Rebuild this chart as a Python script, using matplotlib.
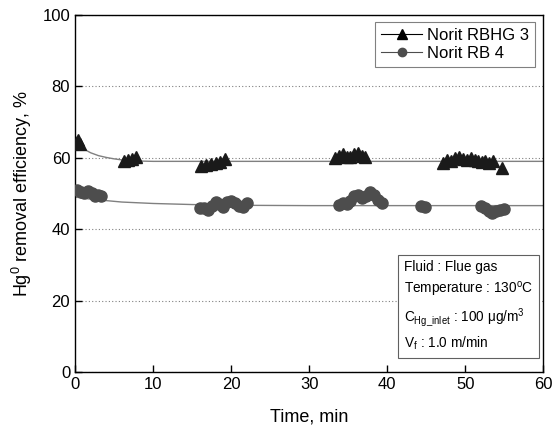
import matplotlib
matplotlib.use('Agg')
import matplotlib.pyplot as plt
from matplotlib.lines import Line2D

plt.rcParams['font.family'] = ['Liberation Sans', 'DejaVu Sans']
plt.rcParams['mathtext.fontset'] = 'custom'
plt.rcParams['mathtext.rm'] = 'Liberation Sans'
plt.rcParams['mathtext.it'] = 'Liberation Sans'

# Norit RBHG 3 (triangles)
t_rbhg = [0.2, 0.4, 0.6,
          6.3, 6.8, 7.3, 7.8,
          16.2, 16.8, 17.4, 18.0, 18.6, 19.2,
          33.3, 33.8, 34.3, 34.8, 35.3, 35.8, 36.3, 36.8, 37.2,
          47.2, 47.7, 48.2, 48.7, 49.2, 49.7, 50.2, 50.7, 51.2, 51.7, 52.2, 52.6, 53.1, 53.6, 54.7]
v_rbhg = [64.5, 65.0, 64.0,
          59.2, 59.4, 59.6, 60.2,
          57.6, 58.0, 58.3, 58.6, 58.9, 59.6,
          60.0, 60.5, 61.2, 60.3, 60.2, 61.2, 61.3, 60.5, 60.3,
          58.6, 59.3, 59.2, 60.0, 60.3, 59.6, 59.4, 60.0, 59.5, 59.2, 58.8, 59.2, 58.6, 59.2, 57.0]

# Norit RB 4 (circles)
t_rb = [0.2, 0.7, 1.2, 1.7, 2.2, 2.6, 3.0, 3.3,
        16.0, 16.5, 17.0, 17.5, 18.0, 18.5, 19.0, 19.5, 20.0, 20.5, 21.0, 21.5, 22.0,
        33.8, 34.3, 34.8, 35.3, 35.8, 36.3, 36.8, 37.3, 37.8, 38.3, 38.8, 39.3,
        44.3, 44.9,
        52.0, 52.5, 53.0, 53.5, 54.0, 54.5, 55.0]
v_rb = [51.0, 50.5, 50.2, 50.8, 50.0, 49.2, 49.6, 49.2,
        46.0, 45.8, 45.5, 46.5, 47.5, 47.0, 46.2, 47.5, 48.0, 47.2, 46.5, 46.2, 47.2,
        46.8, 47.2, 47.0, 47.8, 49.2, 49.6, 48.6, 49.4, 50.3, 49.6, 48.2, 47.2,
        46.5, 46.3,
        46.5, 46.0, 45.2, 44.6, 45.0, 45.4, 45.6]

# fitted curves
t_fit1 = [0, 0.5, 1, 1.5, 2, 3, 4, 5, 6, 8, 10, 15, 60]
v_fit1 = [64.2, 63.4, 62.7, 62.0, 61.4, 60.6, 60.1, 59.7, 59.4, 59.1, 59.0, 59.0, 59.0]
t_fit2 = [0, 1, 2, 4, 6, 8, 10, 15, 20, 30, 60]
v_fit2 = [49.0, 48.7, 48.4, 48.0, 47.6, 47.4, 47.2, 46.9, 46.7, 46.6, 46.6]

fig = plt.figure(figsize=(5.52, 4.29), dpi=100)
ax = fig.add_axes([0.136, 0.133, 0.848, 0.832])

ax.plot(t_fit1, v_fit1, color='#808080', lw=1.0, zorder=2)
ax.plot(t_fit2, v_fit2, color='#808080', lw=1.0, zorder=2)
ax.plot(t_rbhg, v_rbhg, linestyle='none', marker='^', ms=8.5, color='#1a1a1a', zorder=3)
ax.plot(t_rb, v_rb, linestyle='none', marker='o', ms=8, color='#4d4d4d', zorder=3)

ax.set_xlim(0, 60)
ax.set_ylim(0, 100)
ax.set_xticks([0, 10, 20, 30, 40, 50, 60])
ax.set_yticks([0, 20, 40, 60, 80, 100])
ax.yaxis.grid(True, linestyle=(0, (1, 2)), color='#808080', lw=0.8)
ax.tick_params(direction='in', length=5, labelsize=12, width=1)
for s in ax.spines.values():
    s.set_linewidth(1.0)

ax.set_xlabel('Time, min', fontsize=13, labelpad=12)
ax.set_ylabel('Hg$^0$ removal efficiency, %', fontsize=13, labelpad=6)

handles = [Line2D([], [], color='black', lw=0.8, marker='^', ms=7, markerfacecolor='black'),
           Line2D([], [], color='#4d4d4d', lw=0.8, marker='o', ms=6, markerfacecolor='#4d4d4d')]
leg = ax.legend(handles, ['Norit RBHG 3', 'Norit RB 4'], loc='upper right',
                bbox_to_anchor=(0.983, 0.98), borderaxespad=0, fontsize=12,
                fancybox=False, handlelength=2.5, handletextpad=0.3,
                borderpad=0.35, labelspacing=0.2)
leg.get_frame().set_edgecolor('#606060')
leg.get_frame().set_linewidth(0.8)

info = ('Fluid : Flue gas\n'
        'Temperature : 130$^{\\rm o}$C\n'
        'C$_{\\rm Hg\\_inlet}$ : 100 $\\mu$g/m$^3$\n'
        'V$_{\\rm f}$ : 1.0 m/min')
ax.text(0.702, 0.055, info, transform=ax.transAxes, fontsize=9.8, ha='left', va='bottom',
        linespacing=1.45,
        bbox=dict(boxstyle='square,pad=0.45', fc='white', ec='#606060', lw=0.8))

fig.savefig('out.png', dpi=100)
